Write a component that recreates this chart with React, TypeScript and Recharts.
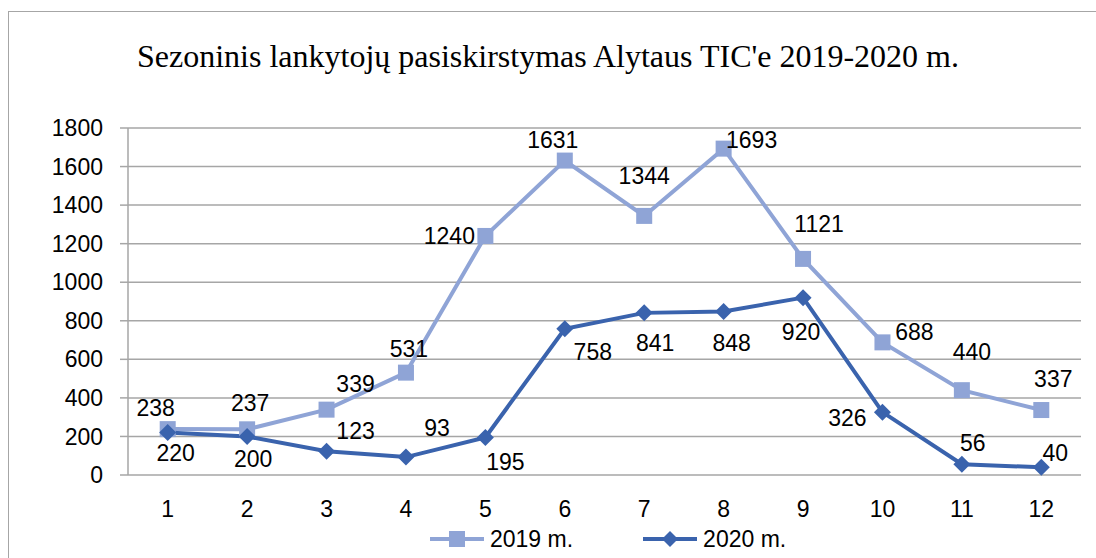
import { LineChart, Line, XAxis, YAxis, CartesianGrid, Legend } from "recharts"

const months = [1, 2, 3, 4, 5, 6, 7, 8, 9, 10, 11, 12]
const visitors2019 = [238, 237, 339, 531, 1240, 1631, 1344, 1693, 1121, 688, 440, 337]
const visitors2020 = [220, 200, 123, 93, 195, 758, 841, 848, 920, 326, 56, 40]
const yTicks = [0, 200, 400, 600, 800, 1000, 1200, 1400, 1600, 1800]
const monthEdges = [0.5, 1.5, 2.5, 3.5, 4.5, 5.5, 6.5, 7.5, 8.5, 9.5, 10.5, 11.5, 12.5]

// where Excel put each data label, relative to its point
const labelOffsets2019 = [
  [-12, -21], [3, -26], [29, -26], [3, -24], [-36, 0], [-12, -21],
  [0, -40], [28, -9], [16, -35], [32, -10], [10, -38], [12, -31],
]
const labelOffsets2020 = [
  [8, 20], [6, 23], [29, -20], [31, -29], [20, 25], [28, 23],
  [11, 30], [8, 31], [-2, 34], [-35, 6], [11, -21], [14, -14],
]

const data = months.map((m, i) => ({
  month: m,
  y2019: visitors2019[i],
  y2020: visitors2020[i],
}))

const LIGHT = "#8FA4D6"
const DARK = "#3A63AD"
const FONT = "'Liberation Sans', Arial, sans-serif"
const FS = 23

const SquareDot = (props: any) => {
  const { cx, cy } = props
  if (cx == null || cy == null) return null
  return <rect x={cx - 8} y={cy - 8} width={16} height={16} fill={LIGHT} />
}

const DiamondDot = (props: any) => {
  const { cx, cy } = props
  if (cx == null || cy == null) return null
  const r = 8.5
  return <polygon points={`${cx},${cy - r} ${cx + r},${cy} ${cx},${cy + r} ${cx - r},${cy}`} fill={DARK} />
}

const makeLabel = (offsets: number[][]) => (props: any) => {
  const { x, y, value, index } = props
  const [dx, dy] = offsets[index] || [0, -20]
  return (
    <text
      x={x + dx}
      y={y + dy}
      textAnchor="middle"
      dominantBaseline="central"
      fontFamily={FONT}
      fontSize={FS}
      fill="#000"
    >
      {value}
    </text>
  )
}

const LegendContent = () => (
  <div style={{ display: "flex", fontFamily: FONT, fontSize: FS, paddingLeft: 422, alignItems: "center", height: 38 }}>
    <svg width={54} height={20} style={{ display: "block" }}>
      <line x1={0} y1={10} x2={54} y2={10} stroke={LIGHT} strokeWidth={4} />
      <rect x={19} y={2} width={16} height={16} fill={LIGHT} />
    </svg>
    <span style={{ marginLeft: 6, marginRight: 70 }}>2019 m.</span>
    <svg width={54} height={20} style={{ display: "block" }}>
      <line x1={0} y1={10} x2={54} y2={10} stroke={DARK} strokeWidth={4} />
      <polygon points="27,2 35,10 27,18 19,10" fill={DARK} />
    </svg>
    <span style={{ marginLeft: 6 }}>2020 m.</span>
  </div>
)

export default function App() {
  return (
    <div style={{ position: "relative", width: 1096, height: 558, overflow: "hidden", background: "#fff" }}>
      <style>{"body{margin:0}"}</style>
      <div
        style={{
          position: "absolute",
          left: 8,
          top: 11,
          width: 1200,
          height: 700,
          border: "1.5px solid #a6a6a6",
        }}
      />
      <div
        style={{
          position: "absolute",
          left: 0,
          top: 37,
          width: 1096,
          textAlign: "center",
          fontFamily: "'Liberation Serif', 'Times New Roman', serif",
          fontSize: 32,
          lineHeight: "38px",
        }}
      >
        Sezoninis lankytojų pasiskirstymas Alytaus TIC'e 2019-2020 m.
      </div>
      <div style={{ position: "absolute", left: 0, top: 0 }}>
        <LineChart width={1096} height={558} data={data} margin={{ top: 128, right: 15, bottom: 0, left: 8 }}>
          <CartesianGrid vertical={false} stroke="#a6a6a6" strokeWidth={1.5} />
          <XAxis
            xAxisId="edges"
            type="number"
            dataKey="month"
            domain={[0.5, 12.5]}
            ticks={monthEdges}
            tick={false}
            tickSize={8}
            height={0}
            stroke="#a6a6a6"
            strokeWidth={1.5}
          />
          <XAxis
            type="number"
            dataKey="month"
            domain={[0.5, 12.5]}
            ticks={months}
            axisLine={false}
            tickLine={false}
            tickSize={0}
            tickMargin={26}
            height={45}
            tick={{ fontFamily: FONT, fontSize: FS, fill: "#000" }}
          />
          <YAxis
            domain={[0, 1800]}
            ticks={yTicks}
            width={120}
            tickSize={8}
            tickMargin={17}
            stroke="#a6a6a6"
            strokeWidth={1.5}
            tick={{ fontFamily: FONT, fontSize: FS, fill: "#000" }}
          />
          <Legend verticalAlign="bottom" height={38} content={<LegendContent />} />
          <Line
            dataKey="y2019"
            name="2019 m."
            stroke={LIGHT}
            strokeWidth={4}
            dot={<SquareDot />}
            activeDot={false}
            label={makeLabel(labelOffsets2019)}
            isAnimationActive={false}
          />
          <Line
            dataKey="y2020"
            name="2020 m."
            stroke={DARK}
            strokeWidth={4}
            dot={<DiamondDot />}
            activeDot={false}
            label={makeLabel(labelOffsets2020)}
            isAnimationActive={false}
          />
        </LineChart>
      </div>
    </div>
  )
}
